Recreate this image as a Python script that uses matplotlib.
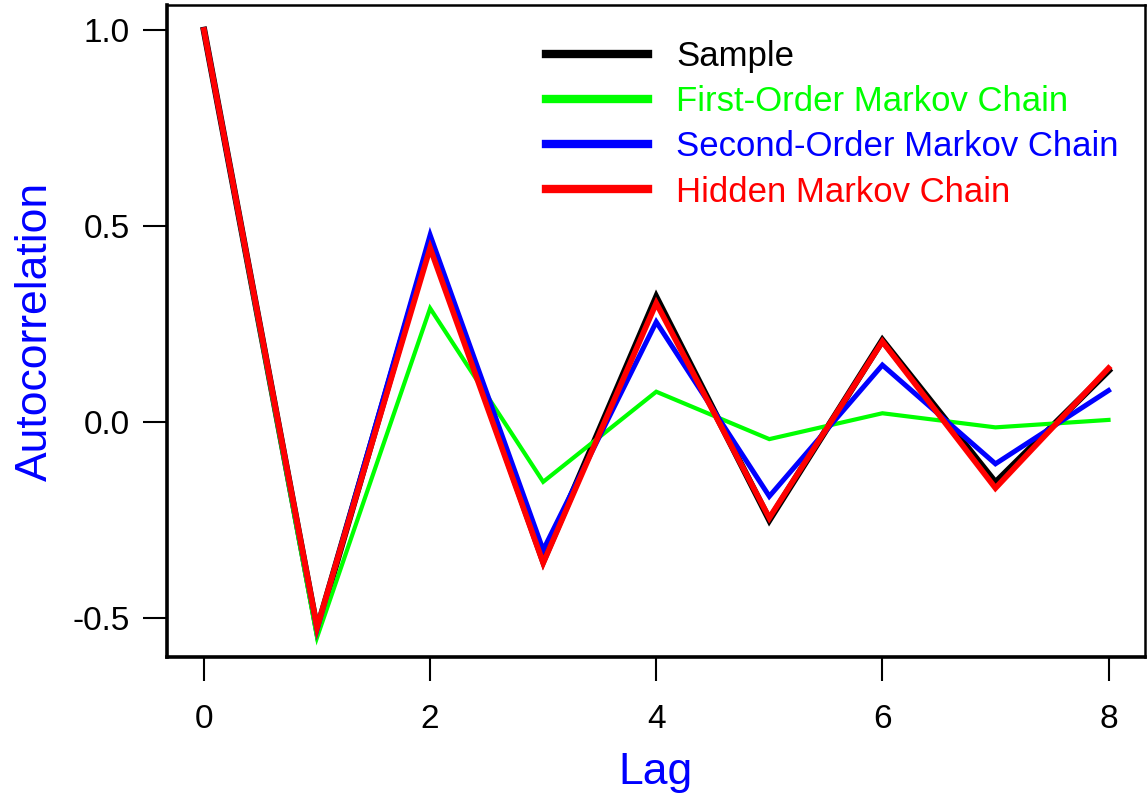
import matplotlib
matplotlib.use('Agg')
import matplotlib.pyplot as plt

lags = [0, 1, 2, 3, 4, 5, 6, 7, 8]
sample = [1.0, -0.53, 0.46, -0.355, 0.318, -0.25, 0.208, -0.155, 0.131]
first_order = [1.0, -0.55, 0.29, -0.153, 0.077, -0.044, 0.022, -0.014, 0.005]
second_order = [1.0, -0.53, 0.477, -0.327, 0.255, -0.19, 0.145, -0.107, 0.08]
hidden = [1.0, -0.525, 0.444, -0.36, 0.303, -0.245, 0.205, -0.169, 0.137]

xticks = [0, 2, 4, 6, 8]
yticks = [-0.5, 0.0, 0.5, 1.0]
ytick_labels = ['-0.5', '0.0', '0.5', '1.0']

plt.rcParams['font.family'] = ['Liberation Sans', 'DejaVu Sans']

fig = plt.figure(figsize=(11.47, 8.01), dpi=100)
ax = fig.add_axes([0.1456, 0.1798, 0.8524, 0.814])

ax.plot(lags, sample, color='black', lw=4.8, label='Sample', solid_joinstyle='miter')
ax.plot(lags, first_order, color='#00ff00', lw=3.0, label='First-Order Markov Chain', solid_joinstyle='miter')
ax.plot(lags, second_order, color='#0000ff', lw=3.6, label='Second-Order Markov Chain', solid_joinstyle='miter')
ax.plot(lags, hidden, color='#ff0000', lw=4.1, label='Hidden Markov Chain', solid_joinstyle='miter')

ax.set_xlim(-0.327, 8.32)
ax.set_ylim(-0.6, 1.064)
ax.set_xticks(xticks)
ax.set_xticklabels([str(t) for t in xticks])
ax.set_yticks(yticks)
ax.set_yticklabels(ytick_labels)

ax.tick_params(axis='both', direction='out', length=17, width=1.5, labelsize=24)
ax.tick_params(axis='x', pad=17)
ax.tick_params(axis='y', pad=10)

for side in ['left', 'bottom']:
    ax.spines[side].set_linewidth(2.6)
for side in ['top', 'right']:
    ax.spines[side].set_linewidth(1.8)

ax.set_xlabel('Lag', color='#0000ff', fontsize=32, labelpad=12)
ax.set_ylabel('Autocorrelation', color='#0000ff', fontsize=32, labelpad=12)

leg = ax.legend(loc='upper left', bbox_to_anchor=(0.388, 0.946), frameon=False,
                fontsize=25, labelcolor='linecolor', handlelength=2.94,
                handletextpad=0.8, labelspacing=0.35, borderpad=0, borderaxespad=0)
for line in leg.get_lines():
    line.set_linewidth(6)

fig.savefig('out.png', dpi=100)
